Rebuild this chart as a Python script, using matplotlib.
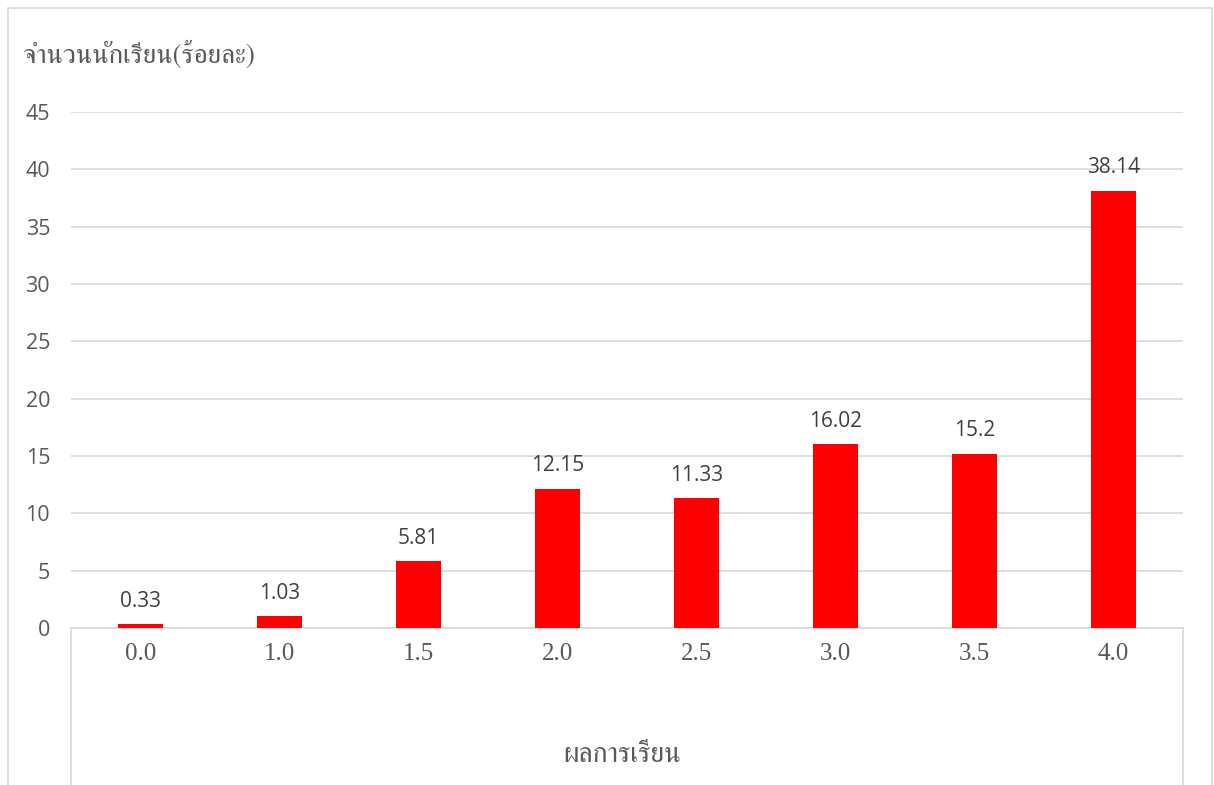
import matplotlib
matplotlib.use("Agg")
import matplotlib.pyplot as plt
from matplotlib import font_manager
from matplotlib.ft2font import FT2Font
from matplotlib.lines import Line2D
from matplotlib.patches import Rectangle

grades = ["0.0", "1.0", "1.5", "2.0", "2.5", "3.0", "3.5", "4.0"]
percent = [0.33, 1.03, 5.81, 12.15, 11.33, 16.02, 15.2, 38.14]
percent_labels = ["0.33", "1.03", "5.81", "12.15", "11.33", "16.02", "15.2", "38.14"]
y_ticks = [0, 5, 10, 15, 20, 25, 30, 35, 40, 45]

y_title = "จำนวนนักเรียน(ร้อยละ)"
x_title = "ผลการเรียน"


# find an installed font that can draw Thai
def thai_family():
    serif_first = []
    other = []
    for f in font_manager.fontManager.ttflist:
        try:
            if 0x0E08 in FT2Font(f.fname).get_charmap():
                if "Serif" in f.name:
                    serif_first.append(f.name)
                else:
                    other.append(f.name)
        except Exception:
            pass
    names = serif_first + other
    return names[0] if names else "DejaVu Sans"


thai = thai_family()
serif = ["Liberation Serif", "DejaVu Serif"]
sans = ["Open Sans", "DejaVu Sans"]

fig = plt.figure(figsize=(12.14, 7.85), dpi=100)
W, H = 1214, 785

# outer chart border
fig.patches.append(Rectangle((8 / W, -0.01), 1204 / W, (785 - 8) / H + 0.01,
                             transform=fig.transFigure, fill=False,
                             edgecolor="#d9d9d9", lw=1.2))

ax = fig.add_axes([71 / W, (785 - 628) / H, (1183 - 71) / W, (628 - 112) / H])
x = range(len(grades))
bars = ax.bar(x, percent, width=0.317, color="#ff0000", zorder=3)

ax.set_ylim(0, 45)
ax.set_xlim(-0.5, len(grades) - 0.5)
ax.set_yticks(y_ticks)
ax.set_yticklabels([str(v) for v in y_ticks], family=sans, fontsize=15.5, color="#595959")
ax.set_xticks(list(x))
ax.set_xticklabels(grades, family=serif, fontsize=18, color="#595959")
ax.tick_params(axis="both", length=0)
ax.tick_params(axis="y", pad=15)
ax.tick_params(axis="x", pad=11)
ax.grid(axis="y", color="#d9d9d9", lw=1.2, zorder=0)
for s in ["top", "right", "left"]:
    ax.spines[s].set_visible(False)
ax.spines["bottom"].set_color("#d9d9d9")
ax.spines["bottom"].set_linewidth(1.2)

for rect, lab in zip(bars, percent_labels):
    ax.annotate(lab, (rect.get_x() + rect.get_width() / 2, rect.get_height()),
                xytext=(0, 9), textcoords="offset points", ha="center", va="bottom",
                family=sans, fontsize=15, color="#404040")

# vertical lines of the category area below the plot
for px in (71, 1183):
    fig.add_artist(Line2D([px / W, px / W], [0, (785 - 628) / H],
                          transform=fig.transFigure, color="#d9d9d9", lw=1.2))

fig.text(22 / W, 1 - 55 / H, y_title, family=[thai, "DejaVu Sans"], fontsize=19.5,
         color="#595959", ha="left", va="center")
fig.text(622 / W, 1 - 755 / H, x_title, family=[thai, "DejaVu Sans"], fontsize=20,
         color="#595959", ha="center", va="center")

fig.savefig("out.png", dpi=100)
